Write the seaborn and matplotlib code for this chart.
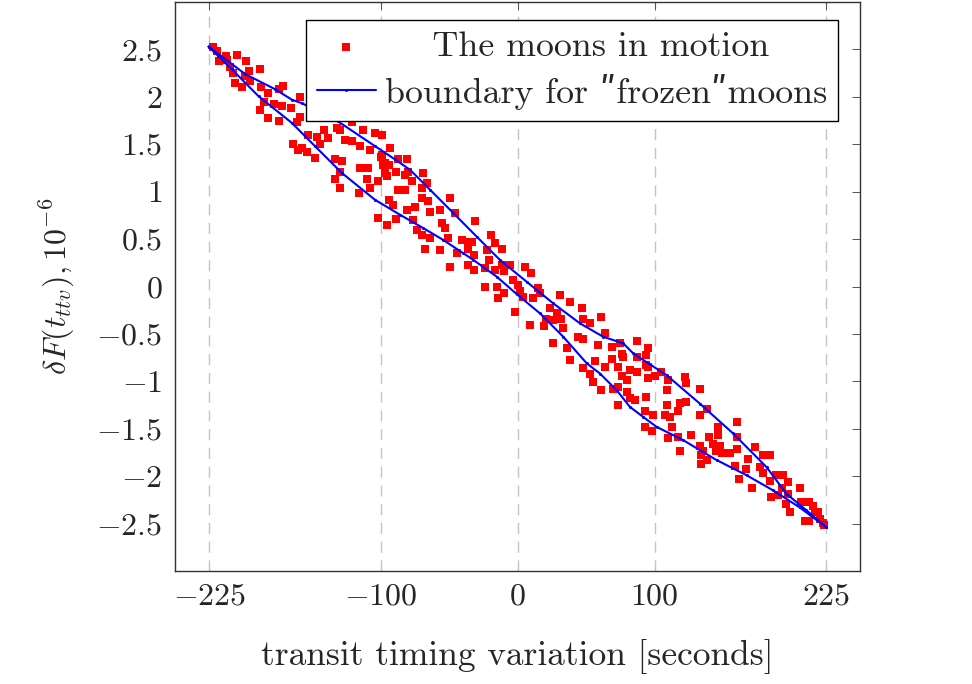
import numpy as np
import pandas as pd
import matplotlib
matplotlib.use("Agg")
import matplotlib.pyplot as plt
import seaborn as sns

# ---- scatter data: the moons in motion ----
moon_x = [-222, -219, -218, -213, -212, -205, -198, -210, -208, -206, -201, -199, -195, -196,
          -188, -187, -182, -174, -171, -185, -178, -188, -172, -165, -182, -174, -161, -164,
          -160, -159,
          -159, -152.6, -157, -154, -148, -146.5, -144, -141.6, -138, -132, -129.5, -126, -121,
          -121, -115, -112.5, -107.6, -104, -133, -128, -129.5, -133, -129.5, -115, -109, -110,
          -107.6, -116, -101.5, -100, -98, -97, -94, -101.5, -95.4, -99, -94,
          -99, -93, -96.6, -89, -95.4, -87, -81, -79.6, -82, -77, -68.7, -66, -70, -87, -82,
          -90.6, -89, -81, -75, -70, -76, -73.5, -70, -64, -64, -65, -56.5, -55, -53, -49,
          -45.6, -50.5, -67.5, -56.5, -40.7, -36, -36, -44, -31, -49, -36, -32,
          -33, -32, -19, -16.4, -11.5, -22.5, -21, -23.7, -16.4, -11.5, -5.5, -10, -23.7, -15,
          -10, -14, -3, 0.6, 2, 5.5, 10, 4, 11.5, 15, 16.4, -2, 9, 19, 31, 23.7, 28.6, 21, 26,
          32, 33, 26, 36,
          38, 47, 48, 53, 61, 44, 48, 59, 64, 69, 75, 77, 87, 95.4, 94, 87, 69, 56.5, 64, 48,
          53, 73.5, 76, 82, 87, 95.4, 55, 61, 70, 80, 82, 94, 105, 110, 109, 38,
          76, 94, 95.4, 100, 80, 73.5, 73.5, 86, 93, 99, 93, 98, 109, 107.6, 111, 112.5, 117,
          110, 118.5, 118.5, 117, 122, 123, 123, 133, 133, 138, 127, 133, 134, 134, 135.5, 140,
          143, 146.5, 146.5, 147.7, 145, 138, 149, 155, 160, 160, 160, 158.6, 167, 168, 162,
          171, 173, 179, 184, 177, 179, 184, 189, 194, 197.5, 193, 185, 190, 197.5, 196, 199,
          206, 207, 210, 213, 216, 217, 221, 223, 224, 219.5, 213]
moon_y = [2.53, 2.48, 2.38, 2.43, 2.39, 2.44, 2.38, 2.31, 2.25, 2.15, 2.10, 2.22, 2.17, 2.27,
          2.29, 2.10, 2.04, 2.08, 2.11, 1.95, 1.92, 1.86, 1.90, 1.88, 1.78, 1.74, 1.73, 1.50,
          1.44, 2.00,
          1.79, 1.60, 1.46, 1.42, 1.36, 1.58, 1.50, 1.65, 1.57, 1.67, 1.65, 1.55, 1.53,
          1.73, 1.48, 1.65, 1.44, 1.62, 1.34, 1.32, 1.21, 1.13, 1.04, 1.25, 1.25, 1.13,
          1.04, 0.99, 1.11, 1.37, 1.28, 1.20, 0.91, 0.72, 0.65, 1.39, 1.28,
          1.60, 1.46, 1.30, 1.21, 1.16, 1.34, 1.34, 1.21, 1.18, 1.11, 1.20, 1.09, 1.04, 1.02, 1.02,
          0.86, 0.71, 0.81, 0.84, 0.93, 0.70, 0.60, 0.54, 0.79, 0.51, 0.90, 0.81, 0.67, 0.62, 0.93,
          0.77, 0.51, 0.40, 0.39, 0.49, 0.47, 0.40, 0.35, 0.69, 0.21, 0.23, 0.17,
          0.47, 0.33, 0.54, 0.46, 0.40, 0.39, 0.28, 0.19, 0.17, 0.23, 0.23, 0.16, -0.01, 0.0,
          -0.07, -0.12, 0.07, 0.02, -0.05, 0.21, 0.14, -0.11, -0.12, -0.02, -0.07, -0.27, -0.41,
          -0.42, -0.09, -0.23, -0.28, -0.34, -0.35,
          -0.34, -0.44, -0.60, -0.65,
          -0.16, -0.23, -0.34, -0.39, -0.32, -0.53, -0.55, -0.62, -0.49, -0.64, -0.60, -0.74,
          -0.57, -0.65, -0.72, -0.74, -0.76, -0.79, -0.85, -0.86,
          -0.92, -0.85, -0.94, -0.88, -0.90, -0.85, -1.01, -1.09, -1.08, -1.11, -1.18, -1.16,
          -0.90, -0.99, -1.09, -0.78,
          -0.71, -0.83, -0.97, -0.94, -0.99, -1.06, -1.25, -1.20, -1.31, -1.36, -1.48, -1.52,
          -1.25, -1.36, -1.38, -1.48, -1.59,
          -1.60, -1.73, -1.23, -1.31, -0.95, -1.02, -1.22, -1.08, -1.36, -1.29, -1.57, -1.68,
          -1.78, -1.87, -1.73, -1.59,
          -1.66, -1.48, -1.57, -1.68, -1.73, -1.83, -1.76, -1.76, -1.43, -1.59, -1.71, -1.89,
          -1.92, -1.82, -2.03,
          -2.12, -1.69, -1.78, -1.78, -1.90, -1.97, -2.05, -1.99, -1.99, -2.06, -2.12, -2.22,
          -2.20, -2.19, -2.29, -2.38,
          -2.13, -2.27, -2.47, -2.47, -2.31, -2.38, -2.45, -2.49, -2.52, -2.38, -2.27]

# ---- boundary for "frozen" moons ----
upper_x = [-225.5, -198.8, -176.9, -164.7, -157, -130.9, -104, -89.4, -78.4, -63.8, -46.8,
           -29.8, -12.8, 6.7, 26.1, 45.6, 62.6, 77.2, 84.5, 108.8, 133.1, 157.4, 181.8, 196.3,
           210.9, 225.5]
upper_y = [2.53, 2.24, 2.08, 1.97, 1.93, 1.74, 1.48, 1.34, 1.23, 1.02, 0.774, 0.526, 0.28,
           0.05, -0.178, -0.389, -0.53, -0.60, -0.706, -0.935, -1.235, -1.55, -1.905, -2.186,
           -2.36, -2.54]
lower_x = [-225.5, -218.4, -208.5, -189, -164.7, -147.7, -128.2, -104, -85.7, -68.7, -54.1,
           -39.5, -32.2, -15.2, -0.6, 16.4, 33.4, 50.5, 60.2, 72.4, 82.1, 91.8, 101.5, 120.9,
           145.3, 167.2, 186.6, 206, 225.5]
lower_y = [2.53, 2.43, 2.29, 2.006, 1.725, 1.478, 1.197, 0.914, 0.756, 0.615, 0.49, 0.35, 0.28,
           0.104, -0.08, -0.283, -0.53, -0.81, -0.918, -1.094, -1.27, -1.376, -1.48, -1.62,
           -1.83, -1.99, -2.15, -2.33, -2.54]

x_ticks = [-225, -100, 0, 100, 225]
x_tick_labels = [r"$-225$", r"$-100$", r"$0$", r"$100$", r"$225$"]
y_ticks = [-2.5, -2, -1.5, -1, -0.5, 0, 0.5, 1, 1.5, 2, 2.5]
y_tick_labels = [r"$-2.5$", r"$-2$", r"$-1.5$", r"$-1$", r"$-0.5$", r"$0$", r"$0.5$",
                 r"$1$", r"$1.5$", r"$2$", r"$2.5$"]

moons = pd.DataFrame({"x": moon_x, "y": moon_y})
boundary = pd.DataFrame({"x": upper_x + lower_x[::-1], "y": upper_y + lower_y[::-1]})

sns.set_theme(style="white")
plt.rcParams.update({
    "font.family": ["cmr10", "DejaVu Serif"],
    "mathtext.fontset": "cm",
    "axes.formatter.use_mathtext": True,
})

FS_TICK = 23
FS_TEXT = 25.8
fig = plt.figure(figsize=(9.72, 6.84), dpi=100)
ax = fig.add_axes([175 / 972, 1 - 571 / 684, 685 / 972, 569 / 684])

sns.scatterplot(data=moons, x="x", y="y", marker="s", color="red", s=38, linewidth=0,
                ax=ax, label="    The moons in motion", zorder=3)
sns.lineplot(data=boundary, x="x", y="y", sort=False, estimator=None, color="blue",
             linewidth=1.5, marker="o", markersize=2.2, markeredgewidth=0,
             ax=ax, label="boundary for \u02bafrozen\u02bamoons", zorder=4)

ax.set_xlim(-250, 250)
ax.set_ylim(-3, 3)
ax.set_xticks(x_ticks)
ax.set_xticklabels(x_tick_labels)
ax.set_yticks(y_ticks)
ax.set_yticklabels(y_tick_labels)
ax.xaxis.grid(True, linestyle=(0, (8, 5.5)), color="#c4c4c4", linewidth=1.0)
ax.yaxis.grid(False)
ax.tick_params(axis="both", direction="in", length=6, width=0.7, color="#555555",
               top=True, right=True, labelsize=FS_TICK, pad=9)
for sp in ax.spines.values():
    sp.set_color("#333333")
    sp.set_linewidth(1.0)

ax.set_xlabel("transit timing variation [seconds]", fontsize=25.5, labelpad=20)
ax.set_ylabel(r"$\delta F(t_{ttv}), 10^{-6}$", fontsize=FS_TICK, labelpad=14)

leg = ax.legend(loc="upper right", bbox_to_anchor=(0.968, 0.968), borderaxespad=0,
                fancybox=False, edgecolor="black", framealpha=1, fontsize=FS_TEXT,
                handlelength=1.65, handletextpad=0.25, borderpad=0.3, labelspacing=0.3)
leg.get_frame().set_linewidth(1.0)

fig.savefig("out.png", dpi=100)
